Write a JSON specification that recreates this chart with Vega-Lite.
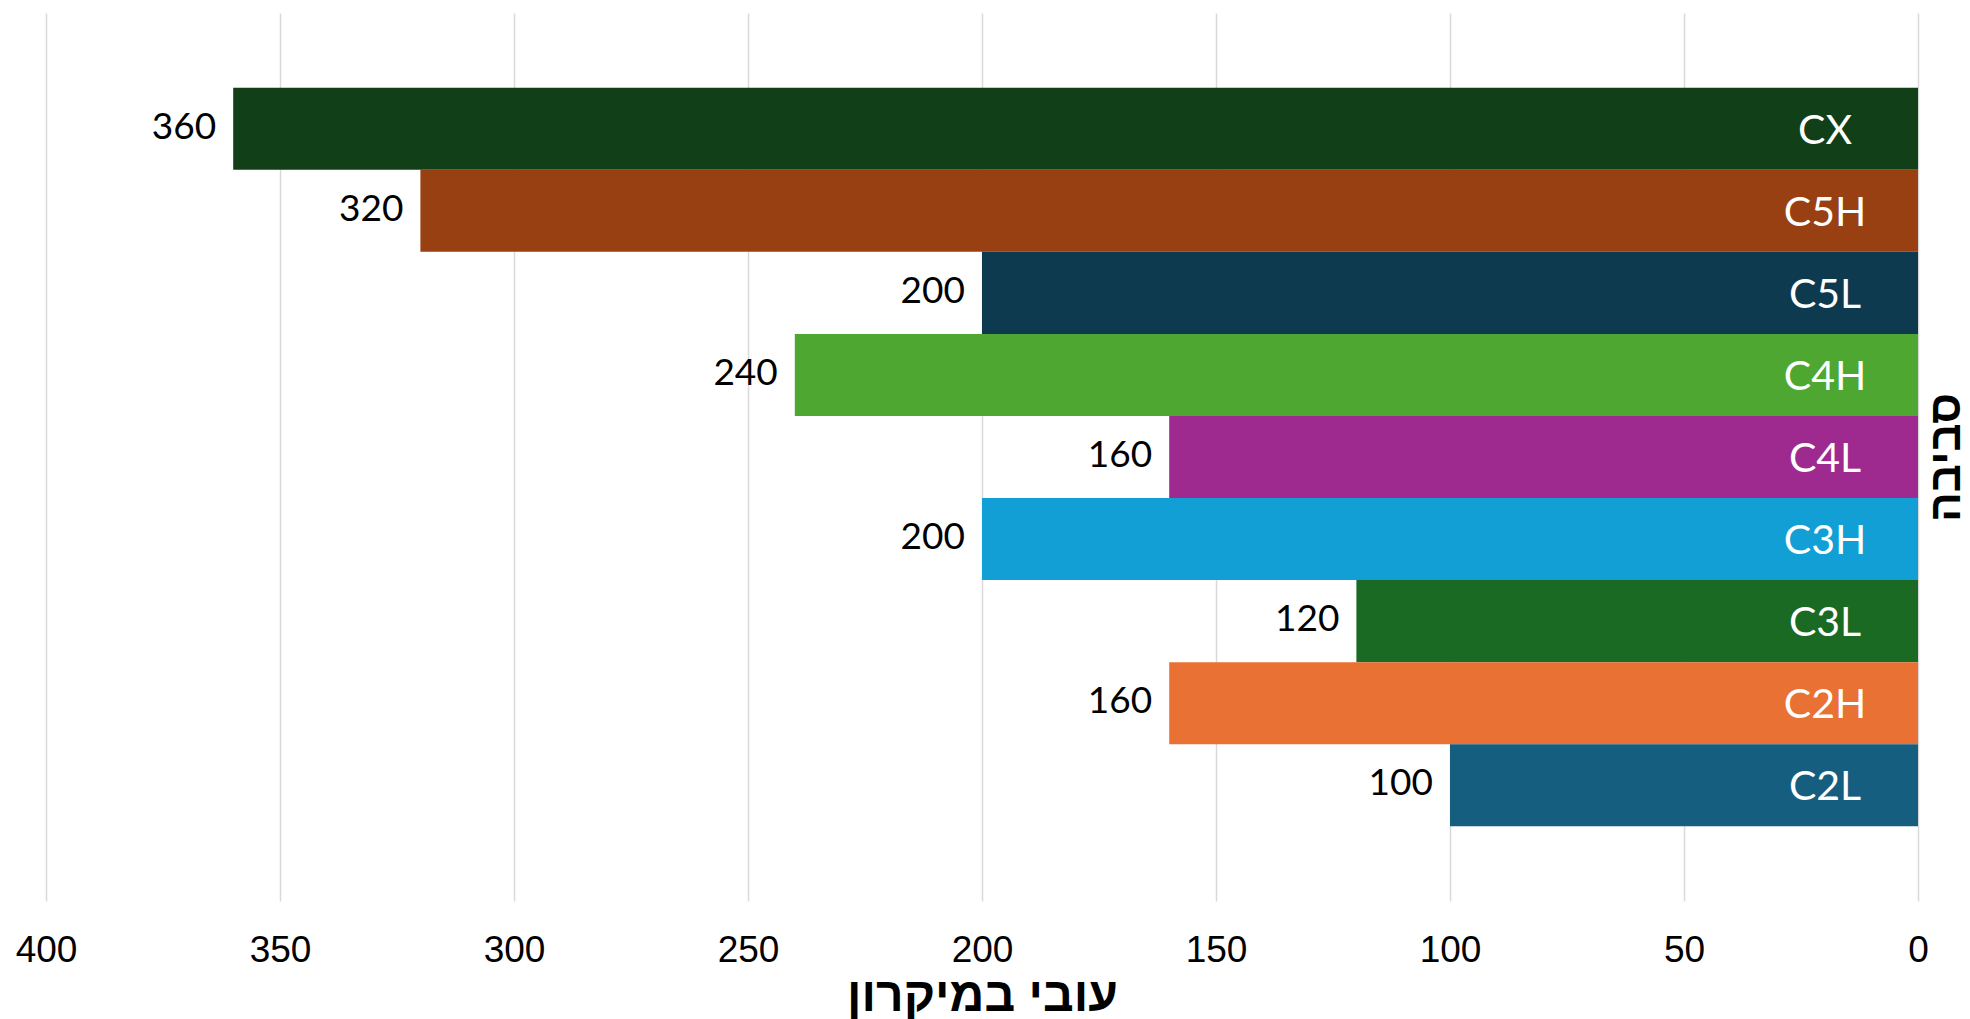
{
  "$schema": "https://vega.github.io/schema/vega-lite/v6.json",
  "autosize": {"type": "none"},
  "width": 1872,
  "height": 888,
  "padding": {"left": 46, "top": 13, "right": 52, "bottom": 118},
  "background": "white",
  "config": {"view": {"stroke": null}},
  "data": {
    "values": [
      {"env": "CX", "thickness": 360},
      {"env": "C5H", "thickness": 320},
      {"env": "C5L", "thickness": 200},
      {"env": "C4H", "thickness": 240},
      {"env": "C4L", "thickness": 160},
      {"env": "C3H", "thickness": 200},
      {"env": "C3L", "thickness": 120},
      {"env": "C2H", "thickness": 160},
      {"env": "C2L", "thickness": 100}
    ]
  },
  "encoding": {
    "y": {
      "field": "env",
      "type": "nominal",
      "sort": null,
      "scale": {"paddingInner": 0, "paddingOuter": 0.91},
      "axis": {
        "orient": "right",
        "title": "סביבה",
        "titleFont": "Liberation Sans",
        "titleFontSize": 44,
        "titleFontWeight": "bold",
        "titleColor": "black",
        "titleAngle": 270,
        "titleBaseline": "top",
        "titlePadding": 6,
        "labels": false,
        "ticks": false,
        "domain": false,
        "grid": false
      }
    }
  },
  "layer": [
    {
      "mark": {"type": "bar"},
      "encoding": {
        "x": {
          "field": "thickness",
          "type": "quantitative",
          "scale": {"domain": [0, 400], "reverse": true, "nice": false},
          "axis": {
            "title": "עובי במיקרון",
            "titleFont": "Liberation Sans",
            "titleFontSize": 48,
            "titleFontWeight": "bold",
            "titleColor": "black",
            "titlePadding": 4,
            "values": [0, 50, 100, 150, 200, 250, 300, 350, 400],
            "labelFont": "Liberation Sans",
            "labelFontSize": 37,
            "labelColor": "black",
            "labelPadding": 31,
            "labelBaseline": "top",
            "labelFlush": false,
            "ticks": false,
            "domain": false,
            "grid": true,
            "gridColor": "#d9d9d9",
            "gridWidth": 1.5
          }
        },
        "color": {
          "field": "env",
          "type": "nominal",
          "legend": null,
          "scale": {
            "domain": ["CX", "C5H", "C5L", "C4H", "C4L", "C3H", "C3L", "C2H", "C2L"],
            "range": ["#113F18", "#984011", "#0E3A50", "#4EA731", "#9E2A90", "#119FD6", "#1A6A24", "#E87133", "#165E80"]
          }
        }
      }
    },
    {
      "mark": {"type": "text", "align": "right", "baseline": "middle", "dx": -17, "dy": -1, "font": "Lato", "fontSize": 37, "color": "black"},
      "encoding": {
        "x": {"field": "thickness", "type": "quantitative"},
        "text": {"field": "thickness", "type": "quantitative"}
      }
    },
    {
      "mark": {"type": "text", "align": "center", "baseline": "middle", "dx": -93, "dy": 3, "font": "Lato", "fontSize": 41, "color": "white"},
      "encoding": {
        "x": {"datum": 0, "type": "quantitative"},
        "text": {"field": "env", "type": "nominal"}
      }
    }
  ]
}
